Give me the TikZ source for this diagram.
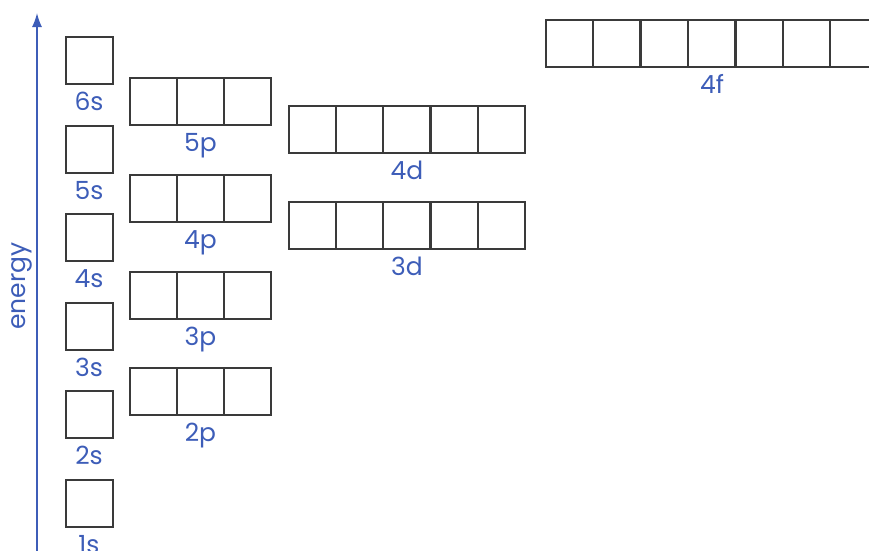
\documentclass[tikz,border=0pt]{standalone}
\usepackage{fontspec}
\setmainfont{Poppins}
\usetikzlibrary{arrows.meta}
\definecolor{lbl}{HTML}{3D5DB8}
\definecolor{edge}{HTML}{3A3A3A}
\begin{document}
\begin{tikzpicture}[x=1pt,y=-1pt,
  orb/.style={draw=edge,line width=1.9pt,minimum size=47pt,inner sep=0pt,outer sep=0pt,anchor=north west},
  lab/.style={text=lbl,font=\fontsize{25}{25}\selectfont,inner sep=0pt,anchor=base},
  axis/.style={draw=lbl,line width=1.5pt,-{Latex[length=14pt,width=10pt]}}]
\useasboundingbox (0,0) rectangle (869,550);
\clip (0,0) rectangle (869,550);
% energy axis
\coordinate (axbot) at (37,552);
\coordinate (axtop) at (37,13);
\draw[axis] (axbot) -- (axtop);
\node[lab,rotate=90] (energy) at (25,286) {energy};
% s orbitals
\foreach \n/\t in {6/37,5/125.6,4/214.2,3/302.8,2/391.4,1/480}{
  \node[orb] (s\n) at (66,\t) {};
  \node[lab] (s\n lab) at (89,{\t+73.5}) {\n s};
}
% p orbitals
\foreach \n/\t in {5/78,4/175,3/272,2/368}{
  \foreach \k in {0,1,2}{
    \node[orb] (p\n-\k) at ({130+47*\k},\t) {};
  }
  \node[lab] (p\n lab) at (200.5,{\t+73.5}) {\n p};
}
% d orbitals
\foreach \n/\t in {4/106,3/202}{
  \foreach \k in {0,...,4}{
    \node[orb] (d\n-\k) at ({289+47.2*\k},\t) {};
  }
  \node[lab] (d\n lab) at (407,{\t+73.5}) {\n d};
}
% f orbitals
\foreach \k in {0,...,6}{
  \node[orb] (f4-\k) at ({546+47.4*\k},20) {};
}
\node[lab] (f4lab) at (712,93.5) {4f};
\end{tikzpicture}
\end{document}
